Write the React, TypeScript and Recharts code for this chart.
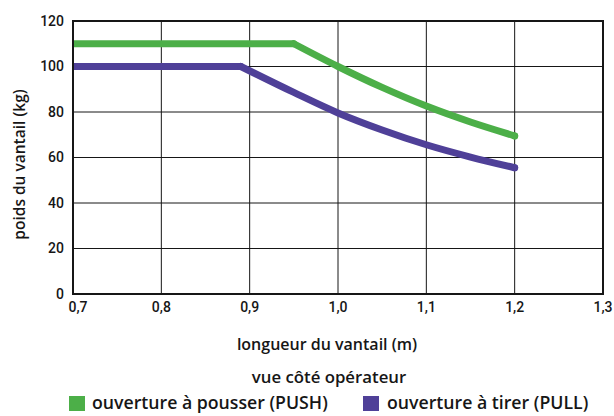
import React from "react";
import {
  LineChart,
  Line,
  XAxis,
  YAxis,
  CartesianGrid,
  ReferenceArea,
} from "recharts";

// Door leaf length (m) vs. maximum leaf weight (kg).
// Each curve has a flat plateau followed by a smooth decreasing branch.
const pushFlatLength = [0.7, 0.95];
const pushFlatWeight = [110, 110];
const pushCurveLength = [0.95, 1.0, 1.05, 1.1, 1.15, 1.2];
const pushCurveWeight = [110, 100, 90.8, 82.6, 75.6, 69.5];

const pullFlatLength = [0.7, 0.89];
const pullFlatWeight = [100, 100];
const pullCurveLength = [0.89, 0.95, 1.0, 1.05, 1.1, 1.15, 1.2];
const pullCurveWeight = [100, 88.6, 79.6, 72.1, 65.6, 60.2, 55.5];

const xTicks = [0.7, 0.8, 0.9, 1.0, 1.1, 1.2, 1.3];
const yTicks = [0, 20, 40, 60, 80, 100, 120];

const seriesNames = ["ouverture à pousser (PUSH)", "ouverture à tirer (PULL)"];
const subtitle = "vue côté opérateur";
const xTitle = "longueur du vantail (m)";
const yTitle = "poids du vantail (kg)";

const GREEN = "#4caf48";
const PURPLE = "#4f4098";
const INK = "#161616";
const FONT = "'Open Sans', Roboto, sans-serif";
const TICK_FONT = "Roboto, 'Open Sans', sans-serif";

const toPoints = (xs: number[], ys: number[]) =>
  xs.map((x, i) => ({ x, y: ys[i] }));

const pushFlat = toPoints(pushFlatLength, pushFlatWeight);
const pushCurve = toPoints(pushCurveLength, pushCurveWeight);
const pullFlat = toPoints(pullFlatLength, pullFlatWeight);
const pullCurve = toPoints(pullCurveLength, pullCurveWeight);

const fmt = (v: number) => v.toFixed(1).replace(".", ",");

const XTick = (props: any) => {
  const { x, y, payload, index } = props;
  return (
    <text
      x={x + (index === 0 ? 5 : 0)}
      y={y}
      dy="0.71em"
      textAnchor="middle"
      fontSize={14}
      fontWeight={500}
      fontFamily={TICK_FONT}
      fill={INK}
    >
      {fmt(payload.value)}
    </text>
  );
};

const YLabel = (props: any) => {
  const vb = props.viewBox || {};
  const cx = vb.x + 19;
  const cy = vb.y + vb.height / 2 + 7;
  return (
    <text
      x={cx}
      y={cy}
      transform={`rotate(-90, ${cx}, ${cy})`}
      textAnchor="middle"
      dominantBaseline="central"
      fontSize={15.5}
      fontWeight={600}
      fontFamily={FONT}
      fill={INK}
    >
      {yTitle}
    </text>
  );
};

const XLabel = (props: any) => {
  const vb = props.viewBox || {};
  return (
    <text
      x={vb.x + vb.width / 2 - 11}
      y={vb.y + 56}
      textAnchor="middle"
      fontSize={16}
      fontWeight={600}
      fontFamily={FONT}
      fill={INK}
    >
      {xTitle}
    </text>
  );
};

const endDot = (color: string, lastIndex: number) => (props: any) => {
  const { cx, cy, index } = props;
  if (index !== lastIndex) return <g key={`d${index}`} />;
  return <circle key={`d${index}`} cx={cx} cy={cy} r={3.5} fill={color} />;
};

const legendText: React.CSSProperties = {
  position: "absolute",
  fontFamily: FONT,
  fontWeight: 600,
  fontSize: 17.7,
  lineHeight: "17px",
  color: INK,
  whiteSpace: "nowrap",
};

export default function App() {
  return (
    <div
      style={{
        position: "absolute",
        left: 0,
        top: 0,
        width: 614,
        height: 416,
        background: "#ffffff",
        overflow: "hidden",
      }}
    >
      <LineChart
        width={614}
        height={416}
        margin={{ top: 21, right: 11, bottom: 0, left: 0 }}
      >
        <CartesianGrid stroke={INK} strokeWidth={1} />
        <XAxis
          type="number"
          dataKey="x"
          domain={[0.7, 1.3]}
          ticks={xTicks}
          allowDataOverflow
          height={122}
          tickLine={false}
          tickSize={0}
          tickMargin={8}
          axisLine={{ stroke: INK, strokeWidth: 2 }}
          tick={<XTick />}
          label={<XLabel />}
        />
        <YAxis
          type="number"
          dataKey="y"
          domain={[0, 120]}
          ticks={yTicks}
          width={73}
          tickLine={false}
          tickSize={0}
          tickMargin={9}
          axisLine={{ stroke: INK, strokeWidth: 2 }}
          tick={{
            fontSize: 14,
            fontWeight: 500,
            fontFamily: TICK_FONT,
            fill: INK,
          }}
          label={<YLabel />}
        />
        <ReferenceArea
          x1={0.7}
          x2={1.3}
          y1={0}
          y2={120}
          fill="none"
          stroke={INK}
          strokeWidth={2}
          ifOverflow="visible"
        />
        <Line
          data={pushFlat}
          dataKey="y"
          type="linear"
          stroke={GREEN}
          strokeWidth={7}
          strokeLinecap="round"
          dot={false}
          activeDot={false}
          isAnimationActive={false}
        />
        <Line
          data={pushCurve}
          dataKey="y"
          type="monotone"
          stroke={GREEN}
          strokeWidth={7}
          strokeLinecap="round"
          dot={endDot(GREEN, pushCurve.length - 1)}
          activeDot={false}
          isAnimationActive={false}
        />
        <Line
          data={pullFlat}
          dataKey="y"
          type="linear"
          stroke={PURPLE}
          strokeWidth={7}
          strokeLinecap="round"
          dot={false}
          activeDot={false}
          isAnimationActive={false}
        />
        <Line
          data={pullCurve}
          dataKey="y"
          type="monotone"
          stroke={PURPLE}
          strokeWidth={7}
          strokeLinecap="round"
          dot={endDot(PURPLE, pullCurve.length - 1)}
          activeDot={false}
          isAnimationActive={false}
        />
      </LineChart>

      <div
        style={{
          ...legendText,
          fontSize: 16.8,
          lineHeight: "16px",
          left: 329,
          top: 369,
          transform: "translateX(-50%)",
        }}
      >
        {subtitle}
      </div>
      <div
        style={{
          position: "absolute",
          left: 69,
          top: 396,
          width: 16,
          height: 15,
          background: GREEN,
        }}
      />
      <div style={{ ...legendText, left: 92, top: 394 }}>{seriesNames[0]}</div>
      <div
        style={{
          position: "absolute",
          left: 363,
          top: 396,
          width: 16,
          height: 15,
          background: PURPLE,
        }}
      />
      <div style={{ ...legendText, left: 387, top: 394 }}>{seriesNames[1]}</div>
    </div>
  );
}
